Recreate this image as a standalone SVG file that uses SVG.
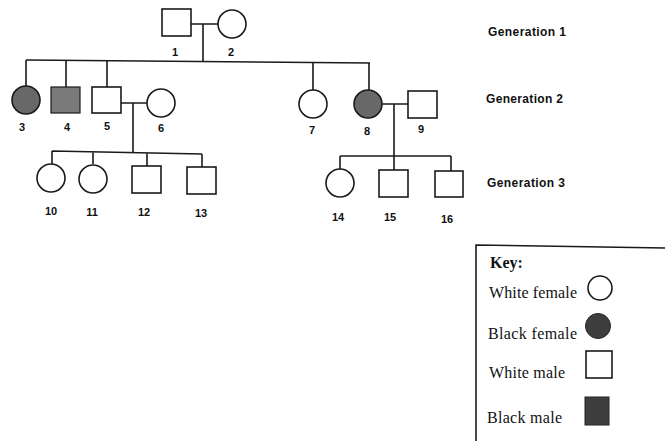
<svg xmlns="http://www.w3.org/2000/svg" width="665" height="441" viewBox="0 0 665 441">
<style>
.s{fill:#fff;stroke:#1a1a1a;stroke-width:1.6}
.dk{fill:#686868;stroke:#1a1a1a;stroke-width:1.6}
.dk2{fill:#7a7a7a;stroke:#1a1a1a;stroke-width:1.2}
.kd{fill:#3e3e3e;stroke:#222;stroke-width:1}
.ln{fill:none;stroke:#1a1a1a;stroke-width:1.6}
.n{font-family:"Liberation Sans",Arial,sans-serif;font-weight:bold;font-size:11px;fill:#111;text-anchor:middle}
.g{font-family:"Liberation Sans",Arial,sans-serif;font-weight:bold;font-size:12px;fill:#111}
.k{font-family:"Liberation Serif","Times New Roman",serif;font-size:16px;fill:#111}
</style>
<rect width="665" height="441" fill="#fff"/>
<g id="connectors">
<path class="ln" d="M191 24H218M203 24V62"/>
<path class="ln" d="M26 60L370 63"/>
<path class="ln" d="M26 60V86M66 60V87M107 61V87M313 62V90M369 63V90"/>
<path class="ln" d="M121 103H147M133 103V152"/>
<path class="ln" d="M52 151L202 154M52 151V164M93 152V164M147 153V166M202 154V167"/>
<path class="ln" d="M382 104H408M394 104V170"/>
<path class="ln" d="M340 156H451M340 156V169M451 156V171"/>
</g>
<g id="n1"><rect class="s" x="162" y="9" width="29" height="27"/><text class="n" x="175" y="56">1</text></g>
<g id="n2"><circle class="s" cx="232" cy="24" r="14"/><text class="n" x="231" y="56">2</text></g>
<g id="n3"><circle class="dk" cx="26" cy="100" r="14"/><text class="n" x="22" y="131">3</text></g>
<g id="n4"><rect class="dk2" x="51" y="87" width="29" height="26"/><text class="n" x="67" y="131">4</text></g>
<g id="n5"><rect class="s" x="92" y="87" width="29" height="26"/><text class="n" x="107" y="130">5</text></g>
<g id="n6"><circle class="s" cx="161" cy="103" r="14"/><text class="n" x="161" y="132">6</text></g>
<g id="n7"><circle class="s" cx="313" cy="104" r="14"/><text class="n" x="312" y="134">7</text></g>
<g id="n8"><circle class="dk" cx="368" cy="104" r="14"/><text class="n" x="367" y="135">8</text></g>
<g id="n9"><rect class="s" x="408" y="91" width="29" height="27"/><text class="n" x="421" y="133">9</text></g>
<g id="n10"><circle class="s" cx="51" cy="178" r="14"/><text class="n" x="51" y="215">10</text></g>
<g id="n11"><circle class="s" cx="93" cy="179" r="14"/><text class="n" x="92" y="216">11</text></g>
<g id="n12"><rect class="s" x="132" y="166" width="29" height="27"/><text class="n" x="144" y="216">12</text></g>
<g id="n13"><rect class="s" x="187" y="167" width="29" height="27"/><text class="n" x="201" y="217">13</text></g>
<g id="n14"><circle class="s" cx="340" cy="183" r="14"/><text class="n" x="338" y="221">14</text></g>
<g id="n15"><rect class="s" x="379" y="170" width="29" height="27"/><text class="n" x="390" y="221">15</text></g>
<g id="n16"><rect class="s" x="435" y="171" width="28" height="26"/><text class="n" x="447" y="223">16</text></g>
<g id="generations">
<text class="g" x="488" y="36" textLength="78">Generation 1</text>
<text class="g" x="486" y="103" textLength="77">Generation 2</text>
<text class="g" x="487" y="187" textLength="78">Generation 3</text>
</g>
<g id="key">
<path class="ln" d="M476 441V245L665 248" stroke-width="1.3"/>
<text class="k" x="490" y="268" font-weight="bold">Key:</text>
<text class="k" x="489" y="298" textLength="88">White female</text>
<circle class="s" cx="600" cy="288" r="12" stroke-width="1.3"/>
<text class="k" x="488" y="339" textLength="89">Black female</text>
<circle class="kd" cx="598" cy="326" r="12.5"/>
<text class="k" x="489" y="378" textLength="76">White male</text>
<rect class="s" x="586" y="351" width="26" height="27" stroke-width="1.3"/>
<text class="k" x="487" y="423" textLength="75">Black male</text>
<rect class="kd" x="585" y="397" width="24" height="28" fill="#4a4a4a"/>
</g>
</svg>
